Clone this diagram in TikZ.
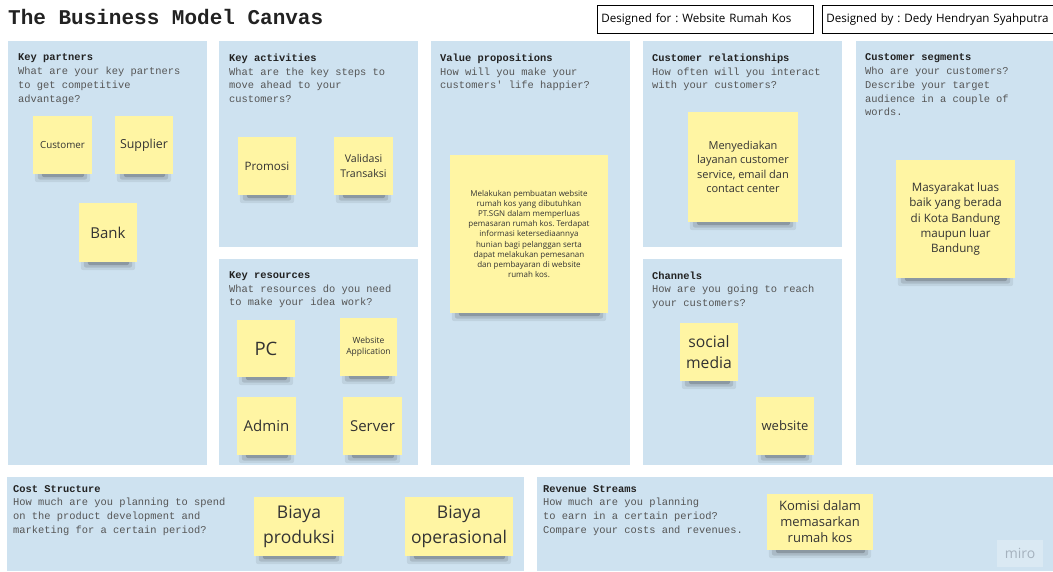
\documentclass[tikz,border=0pt]{standalone}
\usepackage{fontspec}
\setmainfont{Open Sans}
\newfontfamily\cvmono{Liberation Mono}
\frenchspacing
\definecolor{panelblue}{RGB}{206,226,240}
\definecolor{stickyyellow}{RGB}{255,245,163}
\definecolor{notetext}{RGB}{51,51,51}
\definecolor{qgray}{RGB}{85,85,85}
\definecolor{titlegray}{RGB}{34,34,34}
\definecolor{mirogray}{RGB}{165,178,190}
\pgfdeclarelayer{bg}
\pgfdeclarelayer{shd}
\pgfsetlayers{bg,shd,main}
\tikzset{
  panel/.style={fill=panelblue, draw=none},
  paneltext/.style={anchor=north west, inner sep=0pt, align=left, text=qgray,
    font=\cvmono\fontsize{10.4}{13.7}\selectfont},
  sticky/.style={fill=stickyyellow, draw=none, inner sep=2pt, align=center, text=notetext},
  headbox/.style={draw=black, line width=0.8pt, fill=white, anchor=north west,
    inner xsep=4pt, inner ysep=0pt, minimum height=28pt, align=left, text=black,
    font=\fontsize{11.6}{14}\selectfont},
  shadowfill/.style={fill=black, rounded corners=2.5pt}
}
\newcommand\stickynote[8]{%
  \node[sticky, minimum width={(#4-#2)*1pt}, minimum height={(#5-#3)*1pt},
        font=\fontsize{#6}{#7}\selectfont] (#1) at ({(#2+#4)/2},{(#3+#5)/2}) {#8};
  \begin{pgfonlayer}{shd}
    \path[shadowfill, opacity=.07] ([xshift=2pt,yshift=4pt]#1.south west) rectangle ([xshift=-2pt,yshift=-8pt]#1.south east);
    \path[shadowfill, opacity=.11] ([xshift=5pt,yshift=3pt]#1.south west) rectangle ([xshift=-5pt,yshift=-5.5pt]#1.south east);
    \path[shadowfill, opacity=.18] ([xshift=9pt,yshift=2pt]#1.south west) rectangle ([xshift=-8pt,yshift=-3pt]#1.south east);
  \end{pgfonlayer}}
\newcommand\ptitle[1]{{\bfseries\color{titlegray}#1}}
\begin{document}
\begin{tikzpicture}[x=1pt,y=-1pt]
\useasboundingbox (0,0) rectangle (1053,571);
\clip (0,0) rectangle (1053,571);
\begin{pgfonlayer}{bg}
  \fill[white] (0,0) rectangle (1053,571);
  % panels
  \fill[panel] (8,41) rectangle (207,465);
  \fill[panel] (219,41) rectangle (418,247);
  \fill[panel] (219,259) rectangle (418,465);
  \fill[panel] (431,41) rectangle (630,465);
  \fill[panel] (643,41) rectangle (842,247);
  \fill[panel] (643,259) rectangle (842,465);
  \fill[panel] (856,41) rectangle (1053,465);
  \fill[panel] (7,477) rectangle (524,571);
  \fill[panel] (537,477) rectangle (1053,571);
\end{pgfonlayer}

% header
\node[anchor=base west, inner sep=0pt, text=titlegray,
      font=\cvmono\bfseries\fontsize{21}{21}\selectfont] (title) at (8,24) {The Business Model Canvas};
\node[headbox, text width=208pt] (dfor) at (597,5) {Designed for : Website Rumah Kos};
\node[headbox, text width=240pt] (dby) at (822,5) {Designed by : Dedy Hendryan Syahputra};

% panel texts
\node[paneltext] (kp) at (18,53.8) {\ptitle{Key partners}\\What are your key partners\\to get competitive\\advantage?};
\node[paneltext] (ka) at (229,53.8) {\ptitle{Key activities}\\What are the key steps to\\move ahead to your\\customers?};
\node[paneltext] (vp) at (440,53.8) {\ptitle{Value propositions}\\How will you make your\\customers\textquotesingle{} life happier?};
\node[paneltext] (cr) at (652,53.8) {\ptitle{Customer relationships}\\How often will you interact\\with your customers?};
\node[paneltext] (cs) at (865,53.8) {\ptitle{Customer segments}\\Who are your customers?\\Describe your target\\audience in a couple of\\words.};
\node[paneltext] (kr) at (229,271.5) {\ptitle{Key resources}\\What resources do you need\\to make your idea work?};
\node[paneltext] (ch) at (652,271.5) {\ptitle{Channels}\\How are you going to reach\\your customers?};
\node[paneltext] (cost) at (13,485) {\ptitle{Cost Structure}\\How much are you planning to spend\\on the product development and\\marketing for a certain period?};
\node[paneltext] (rev) at (543,485) {\ptitle{Revenue Streams}\\How much are you planning\\to earn in a certain period?\\Compare your costs and revenues.};

% sticky notes
\stickynote{nCustomer}{33}{116}{92}{174}{9.8}{12}{Customer}
\stickynote{nSupplier}{115}{116}{173}{174}{12.4}{15}{Supplier}
\stickynote{nBank}{79}{203}{137}{262}{15}{18}{Bank}
\stickynote{nPromosi}{238}{137}{296}{195}{11.6}{14}{Promosi}
\stickynote{nValidasi}{334}{137}{393}{195}{10.6}{15}{Validasi\\Transaksi}
\stickynote{nPC}{237}{320}{295}{377}{18.5}{22}{PC}
\stickynote{nWebApp}{340}{318}{397}{376}{8.5}{10.7}{Website\\Application}
\stickynote{nAdmin}{237}{397}{296}{455}{15}{18}{Admin}
\stickynote{nServer}{343}{397}{402}{455}{15}{18}{Server}
\stickynote{nValue}{450}{155}{608}{313}{8}{10.1}{Melakukan pembuatan website\\rumah kos yang dibutuhkan\\PT.SGN dalam memperluas\\pemasaran rumah kos. Terdapat\\informasi ketersediaannya\\hunian bagi pelanggan serta\\dapat melakukan pemesanan\\dan pembayaran di website\\rumah kos.}
\stickynote{nRelation}{688}{112}{798}{222}{11}{14.5}{Menyediakan\\layanan customer\\service, email dan\\contact center}
\stickynote{nSocial}{680}{323}{738}{381}{15.7}{21.7}{social\\media}
\stickynote{nWebsite}{756}{397}{814}{455}{13}{16}{website}
\stickynote{nSegment}{896}{160}{1015}{278}{11.6}{15.2}{Masyarakat luas\\baik yang berada\\di Kota Bandung\\maupun luar\\Bandung}
\stickynote{nProduksi}{254}{497}{344}{556}{17.5}{25}{Biaya\\produksi}
\stickynote{nOperasional}{405}{497}{513}{556}{17.5}{25}{Biaya\\operasional}
\stickynote{nKomisi}{767}{494}{873}{550}{13}{16}{Komisi dalam\\memasarkan\\rumah kos}

% watermark
\node[fill=white, fill opacity=0.25, text opacity=1, text=mirogray, inner sep=0pt,
      minimum width=46pt, minimum height=27pt, font=\fontsize{14}{14}\selectfont] (miro) at (1020,553.5) {miro};
\end{tikzpicture}
\end{document}
